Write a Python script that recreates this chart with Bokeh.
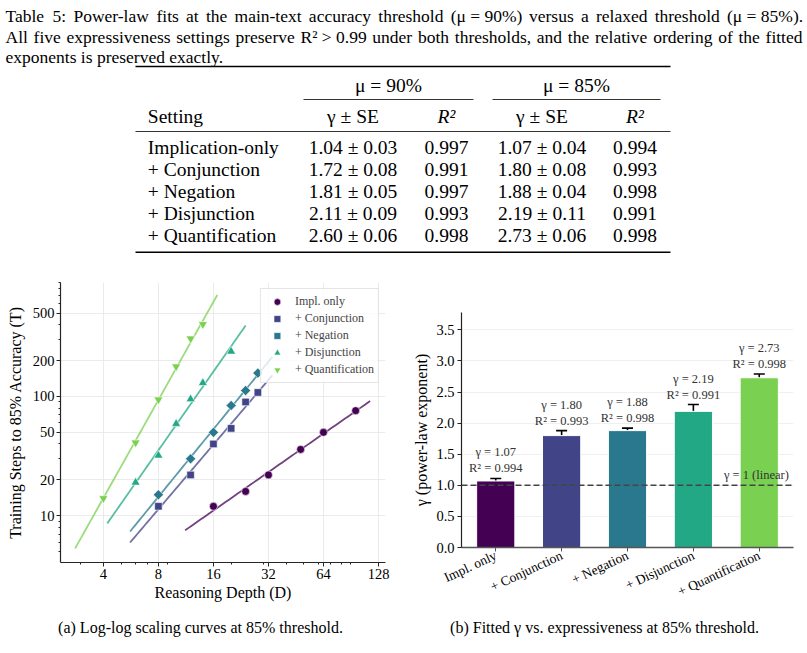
import numpy as np
from bokeh.plotting import figure
from bokeh.layouts import column, row
from bokeh.models import (Range1d, FixedTicker, PrintfTickFormatter, Legend, LegendItem,
                          Whisker, TeeHead, ColumnDataSource, Span)
from bokeh.embed import file_html
from bokeh.resources import INLINE
from bokeh.core.properties import value

SERIF = "Liberation Serif"

# ---- Table 5 values ----
settings = ["Implication-only", "+ Conjunction", "+ Negation", "+ Disjunction", "+ Quantification"]
gamma_90 = [1.04, 1.72, 1.81, 2.11, 2.60]
se_90 = [0.03, 0.08, 0.05, 0.09, 0.06]
r2_90 = [0.997, 0.991, 0.997, 0.993, 0.998]
gamma_85 = [1.07, 1.80, 1.88, 2.19, 2.73]
se_85 = [0.04, 0.08, 0.04, 0.11, 0.06]
r2_85 = [0.994, 0.993, 0.998, 0.991, 0.998]

# ---- panel (a): steps to 85% accuracy vs reasoning depth ----
series_names = ["Impl. only", "+ Conjunction", "+ Negation", "+ Disjunction", "+ Quantification"]
depth_impl = [16, 24, 32, 48, 64, 96]
steps_impl = [12, 16, 22, 36, 50, 76]
depth_conj = [8, 12, 16, 20, 24, 28]
steps_conj = [12, 22, 40, 54, 90, 108]
depth_neg = [8, 12, 16, 20, 24, 28]
steps_neg = [15, 30, 50, 84, 112, 157]
depth_disj = [6, 8, 10, 12, 14, 20]
steps_disj = [19, 32, 59, 95, 130, 238]
depth_quant = [4, 6, 8, 10, 12, 14]
steps_quant = [14, 41, 94, 178, 305, 402]

depth_ticks = [4, 8, 16, 32, 64, 128]
depth_minor = [3, 5, 6, 7, 9, 20, 30, 40, 50, 60, 70, 80, 90]
steps_ticks = [10, 20, 50, 100, 200, 500]
steps_minor = [5, 6, 7, 8, 9, 30, 40, 60, 70, 80, 90, 300, 400, 600, 700, 800, 900]

# ---- panel (b) ----
bar_labels = ["Impl. only", "+ Conjunction", "+ Negation", "+ Disjunction", "+ Quantification"]
gamma_ticks = [0.0, 0.5, 1.0, 1.5, 2.0, 2.5, 3.0, 3.5]

colors = ["#440154", "#414487", "#2a788e", "#22a884", "#7ad151"]

# Times-compatible advance widths (1/1000 em), used for justifying the caption
_W = {' ': 250, '!': 333, '%': 833, '(': 333, ')': 333, '+': 564, ',': 250, '-': 333, '.': 250,
      ':': 278, '=': 564, '>': 564, '<': 564,
      'A': 722, 'B': 667, 'C': 667, 'D': 722, 'E': 611, 'F': 556, 'G': 722, 'H': 722, 'I': 333,
      'J': 389, 'K': 722, 'L': 611, 'M': 889, 'N': 722, 'O': 722, 'P': 556, 'Q': 722, 'R': 667,
      'S': 556, 'T': 611, 'U': 722, 'V': 722, 'W': 944, 'X': 722, 'Y': 722, 'Z': 611,
      'a': 444, 'b': 500, 'c': 444, 'd': 500, 'e': 444, 'f': 333, 'g': 500, 'h': 500, 'i': 278,
      'j': 278, 'k': 500, 'l': 278, 'm': 778, 'n': 500, 'o': 500, 'p': 500, 'q': 500, 'r': 333,
      's': 389, 't': 278, 'u': 500, 'v': 500, 'w': 722, 'x': 500, 'y': 500, 'z': 444,
      'μ': 500, 'γ': 440, '±': 564, '²': 300}


def em_width(s):
    return sum(_W.get(c, 500) for c in s) / 1000.0


def justify(tokens, left, right, size):
    widths = [em_width(t) * size for t in tokens]
    gap = (right - left - sum(widths)) / (len(tokens) - 1)
    xs, x = [], left
    for w in widths:
        xs.append(x)
        x += w + gap
    return xs


def blank(w, h):
    p = figure(width=w, height=h, x_range=Range1d(0, w), y_range=Range1d(h, 0),
               output_backend="svg", toolbar_location=None, min_border=0,
               x_axis_location=None, y_axis_location=None)
    p.grid.visible = False
    p.outline_line_color = None
    p.background_fill_color = "white"
    p.border_fill_color = "white"
    return p


# ================= Table with caption =================
tab = blank(807, 268)
cap_size = 17.5
line1 = ["Table", "5:", "Power-law", "fits", "at", "the", "main-text", "accuracy", "threshold",
         "(μ = 90%)", "versus", "a", "relaxed", "threshold", "(μ = 85%)."]
line2 = ["All", "five", "expressiveness", "settings", "preserve", "R² > 0.99", "under", "both",
         "thresholds,", "and", "the", "relative", "ordering", "of", "the", "fitted"]
tx, ty, tt = [], [], []
for toks, yy in ((line1, 15), (line2, 36.5)):
    xs = justify(toks, 5, 802, cap_size)
    tx += xs
    ty += [yy] * len(toks)
    tt += toks
tx.append(5); ty.append(56.5); tt.append("exponents is preserved exactly.")
tab.text(x=tx, y=ty, text=tt, text_font=value(SERIF), text_font_size=f"{cap_size}px",
         text_align="left", text_baseline="middle", text_color="black")

# booktabs-style rules
tab.segment(x0=[135, 135], y0=[66, 251.7], x1=[670, 670], y1=[66, 251.7], line_width=1.4, line_color="black")
tab.segment(x0=[135], y0=[131], x1=[670], y1=[131], line_width=0.8, line_color="black")
tab.segment(x0=[303, 492], y0=[99, 99], x1=[473, 660], y1=[99, 99], line_width=0.8, line_color="black")

tsize = "19.5px"
col_x = [147.3, 352.5, 446, 541.5, 634.5]
tab.text(x=[388, 576], y=[85, 85], text=["μ = 90%", "μ = 85%"], text_font=value(SERIF),
         text_font_size=tsize, text_align="center", text_baseline="middle", text_color="black")
tab.text(x=[col_x[0]], y=[115.7], text=["Setting"], text_font=value(SERIF), text_font_size=tsize,
         text_align="left", text_baseline="middle", text_color="black")
tab.text(x=[col_x[1], col_x[3]], y=[115.7, 115.7], text=["γ ± SE", "γ ± SE"], text_font=value(SERIF),
         text_font_size=tsize, text_align="center", text_baseline="middle", text_color="black")
tab.text(x=[col_x[2], col_x[4]], y=[115.7, 115.7], text=["R²", "R²"], text_font=value(SERIF),
         text_font_size=tsize, text_font_style="italic", text_align="center", text_baseline="middle",
         text_color="black")

row_y = [147.3 + 21.8 * i for i in range(len(settings))]
tab.text(x=[col_x[0]] * len(settings), y=row_y, text=settings, text_font=value(SERIF),
         text_font_size=tsize, text_align="left", text_baseline="middle", text_color="black")
cells_x, cells_y, cells_t = [], [], []
for i in range(len(settings)):
    vals = [f"{gamma_90[i]:.2f} ± {se_90[i]:.2f}", f"{r2_90[i]:.3f}",
            f"{gamma_85[i]:.2f} ± {se_85[i]:.2f}", f"{r2_85[i]:.3f}"]
    for j, v in enumerate(vals):
        cells_x.append(col_x[j + 1]); cells_y.append(row_y[i]); cells_t.append(v)
tab.text(x=cells_x, y=cells_y, text=cells_t, text_font=value(SERIF), text_font_size=tsize,
         text_align="center", text_baseline="middle", text_color="black")

# ================= (a) log-log scaling curves =================
pa = figure(width=400, height=340, x_axis_type="log", y_axis_type="log",
            x_range=Range1d(2.33, 139.8), y_range=Range1d(4.06, 901),
            output_backend="svg", toolbar_location=None,
            min_border_left=60, min_border_right=15, min_border_top=14, min_border_bottom=46)
pa.outline_line_color = None
pa.background_fill_color = "white"
pa.border_fill_color = "white"

for ax in (pa.xaxis[0], pa.yaxis[0]):
    ax.axis_line_color = "#262626"
    ax.axis_line_width = 1.2
    ax.major_tick_line_color = "#262626"
    ax.minor_tick_line_color = "#262626"
    ax.major_tick_out, ax.major_tick_in = 4, 0
    ax.minor_tick_out, ax.minor_tick_in = 2, 0
    ax.major_label_text_font = SERIF
    ax.major_label_text_font_size = "14.5px"
    ax.major_label_text_color = "black"
    ax.major_label_standoff = 2
    ax.formatter = PrintfTickFormatter(format="%d")
    ax.axis_label_text_font = SERIF
    ax.axis_label_text_font_size = "16px"
    ax.axis_label_text_font_style = "normal"
    ax.axis_label_text_color = "black"
pa.xaxis.axis_label = "Reasoning Depth (D)"
pa.yaxis.axis_label = "Training Steps to 85% Accuracy (T)"
pa.xaxis.axis_label_standoff = 2
pa.yaxis.axis_label_standoff = 6
pa.xaxis.ticker = FixedTicker(ticks=depth_ticks, minor_ticks=depth_minor)
pa.yaxis.ticker = FixedTicker(ticks=steps_ticks, minor_ticks=steps_minor)
pa.xgrid.ticker = FixedTicker(ticks=depth_ticks)
pa.ygrid.ticker = FixedTicker(ticks=steps_ticks)
pa.grid.grid_line_color = "#e6e6e6"
pa.grid.grid_line_width = 0.8

series = [(depth_impl, steps_impl, "circle", 8, 0),
          (depth_conj, steps_conj, "square", 7.5, 0),
          (depth_neg, steps_neg, "square", 7.2, np.pi / 4),
          (depth_disj, steps_disj, "triangle", 9, 0),
          (depth_quant, steps_quant, "inverted_triangle", 9, 0)]
items = []
for k, (d, t, marker, size, ang) in enumerate(series):
    d = np.asarray(d, float)
    t = np.asarray(t, float)
    g = gamma_85[k]
    # fixed-slope power-law fit: log T = log a + gamma log D
    loga = np.mean(np.log(t) - g * np.log(d))
    dd = np.logspace(np.log10(d.min() * 0.7), np.log10(d.max() * 1.2), 60)
    pa.line(dd, np.exp(loga) * dd ** g, line_color=colors[k], line_alpha=0.75, line_width=1.8)
    r = pa.scatter(d, t, marker=marker, size=size, angle=ang, fill_color=colors[k],
                   line_color="white", line_width=0.6)
    items.append(LegendItem(label=series_names[k], renderers=[r]))

legend = Legend(items=items, location="top_right", label_text_font=SERIF,
                label_text_font_size="12px", glyph_width=24, glyph_height=17, label_height=17,
                label_standoff=6, padding=4, spacing=0, margin=6,
                border_line_color="#cccccc", border_line_width=0.8,
                background_fill_color="white", background_fill_alpha=0.8)
pa.add_layout(legend)

# ================= (b) fitted gamma per setting =================
pb = figure(width=407, height=340, x_range=Range1d(-0.52, 4.52), y_range=Range1d(0, 3.78),
            output_backend="svg", toolbar_location=None,
            min_border_left=61, min_border_right=14, min_border_top=44, min_border_bottom=61)
pb.outline_line_color = None
pb.background_fill_color = "white"
pb.border_fill_color = "white"
pb.xgrid.visible = False
pb.ygrid.ticker = FixedTicker(ticks=gamma_ticks)
pb.ygrid.grid_line_color = "#ececec"
pb.ygrid.grid_line_width = 0.8

idx = list(range(len(bar_labels)))
src = ColumnDataSource(dict(x=idx, top=gamma_85, color=colors,
                            upper=[g + s for g, s in zip(gamma_85, se_85)],
                            lower=[g - s for g, s in zip(gamma_85, se_85)],
                            glab=[f"γ = {g:.2f}" for g in gamma_85],
                            rlab=[f"R² = {r:.3f}" for r in r2_85]))
pb.vbar(x="x", top="top", width=0.58, fill_color="color", line_color="white", line_width=1, source=src)
pb.add_layout(Whisker(source=src, base="x", upper="upper", lower="lower", line_color="black",
                      line_width=1.6,
                      upper_head=TeeHead(size=11, line_color="black", line_width=1.6),
                      lower_head=TeeHead(size=11, line_color="black", line_width=1.6)))
pb.add_layout(Span(location=1.0, dimension="width", line_color="#444444", line_width=1.5,
                   line_dash="6 3"))
pb.text(x="x", y="upper", text="rlab", source=src, y_offset=-10, text_font=value(SERIF),
        text_font_size="12.5px", text_align="center", text_baseline="middle", text_color="#333333")
pb.text(x="x", y="upper", text="glab", source=src, y_offset=-26, text_font=value(SERIF),
        text_font_size="12.5px", text_align="center", text_baseline="middle", text_color="#333333")
pb.text(x=[4.45], y=[1.0], text=["γ = 1 (linear)"], y_offset=-3, text_font=value(SERIF),
        text_font_size="12.5px", text_align="right", text_baseline="bottom", text_color="#333333")

ya, xa = pb.yaxis[0], pb.xaxis[0]
ya.ticker = FixedTicker(ticks=gamma_ticks)
ya.formatter = PrintfTickFormatter(format="%.1f")
ya.axis_line_color = "#222222"
ya.axis_line_width = 1.2
ya.major_tick_line_color = "#222222"
ya.axis_label = "γ (power-law exponent)"
ya.axis_label_standoff = 3
ya.axis_label_text_font = SERIF
ya.axis_label_text_font_size = "16px"
ya.axis_label_text_font_style = "normal"
ya.axis_label_text_color = "black"
xa.ticker = FixedTicker(ticks=idx)
xa.major_label_overrides = {i: lab for i, lab in enumerate(bar_labels)}
xa.major_label_orientation = np.deg2rad(25)
xa.axis_line_color = "#555555"
xa.axis_line_width = 1.6
xa.major_tick_line_color = "#555555"
for ax in (xa, ya):
    ax.minor_tick_line_color = None
    ax.major_tick_out, ax.major_tick_in = 4, 0
    ax.major_label_text_font = SERIF
    ax.major_label_text_color = "black"
    ax.major_label_standoff = 3
ya.major_label_text_font_size = "14.5px"
xa.major_label_text_font_size = "13.5px"

# ================= sub-captions =================
cap = blank(807, 45)
cap.text(x=[200, 604], y=[18.7, 18.7],
         text=["(a) Log-log scaling curves at 85% threshold.",
               "(b) Fitted γ vs. expressiveness at 85% threshold."],
         text_font=value(SERIF), text_font_size="16px", text_align="center",
         text_baseline="middle", text_color="black")

page = column(tab, row(column(pa), column(pb)), cap)
open("out.html", "w").write(file_html(page, INLINE))
